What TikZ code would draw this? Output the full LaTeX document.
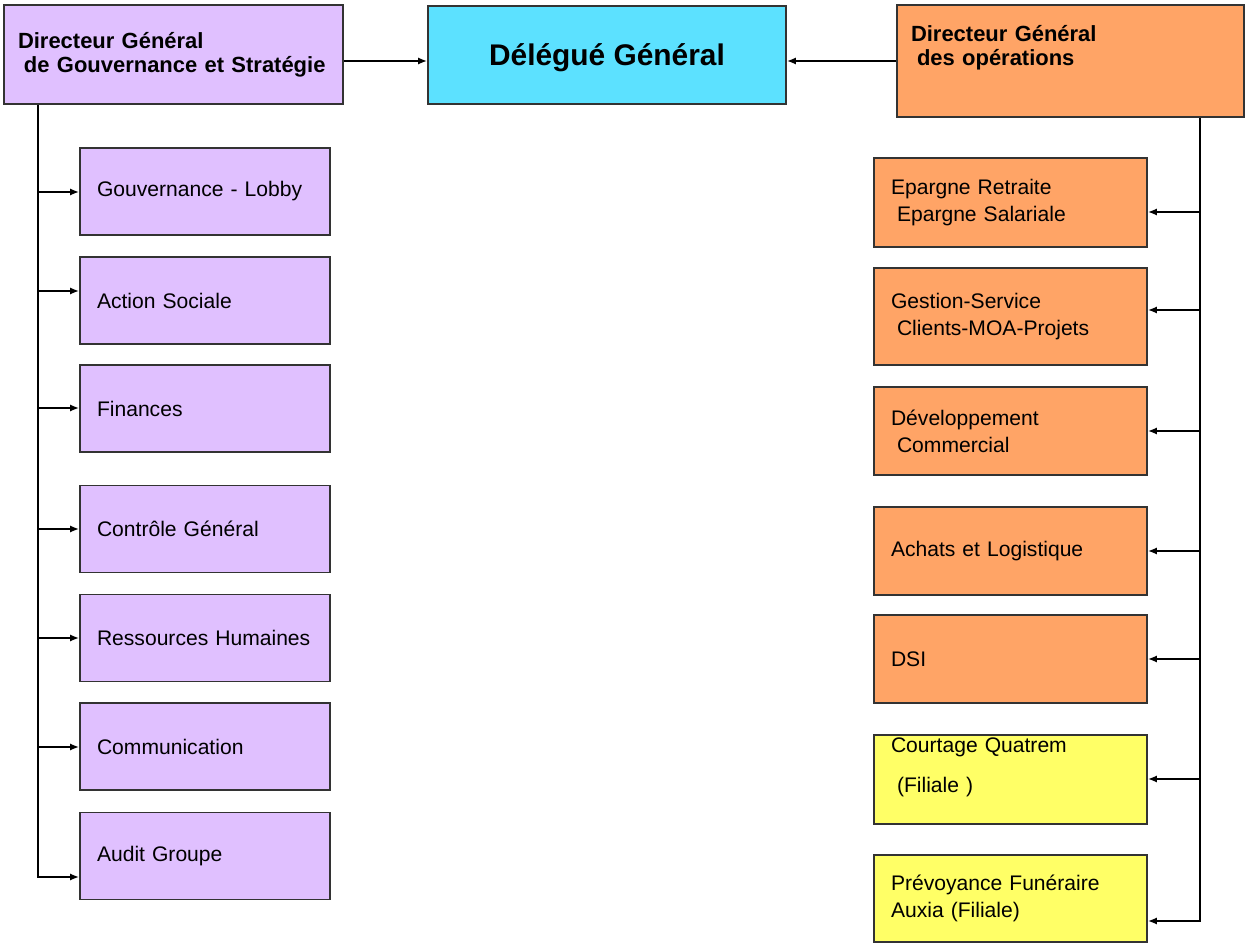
\documentclass[tikz,border=0pt]{standalone}
\usepackage{fontspec}
\setmainfont{Liberation Sans}
\usetikzlibrary{arrows.meta,positioning}

\definecolor{govlilac}{HTML}{E0C0FF}
\definecolor{delcyan}{HTML}{5CE1FF}
\definecolor{opsorange}{HTML}{FFA466}
\definecolor{subyellow}{HTML}{FFFF66}
\newcommand{\leadsp}{\hspace*{0.12cm}}

\begin{document}
\begin{tikzpicture}[
    top/.style={draw=black!80, line width=0.9pt, align=left, inner xsep=0.28cm,
        font=\fontsize{12.5}{13.8}\selectfont\bfseries},
    box/.style={draw=black!80, line width=0.9pt, align=left, inner xsep=0.34cm, inner ysep=0pt,
        font=\fontsize{12}{15.5}\selectfont},
    lbox/.style={box, fill=govlilac, text width=4.32cm, minimum height=1.74cm},
    rbox/.style={box, fill=opsorange, text width=4.78cm, minimum height=1.76cm},
    arrow/.style={-{Latex[length=1.8mm,width=1.4mm]}, line width=1pt}
]
\useasboundingbox (0,0) rectangle (24.9,-18.86);

% Top row
\node[top, fill=govlilac, text width=6.22cm, minimum height=1.98cm] (dggs) at (3.47,-1.09)
    {Directeur Général\\\leadsp de Gouvernance et Stratégie};
\node[draw=black!80, line width=0.9pt, fill=delcyan, minimum width=7.16cm, minimum height=1.96cm,
    text depth=0pt, font=\fontsize{17}{20}\selectfont\bfseries] (dg) at (12.14,-1.10) {Délégué Général};
\node[top, fill=opsorange, text width=6.38cm, minimum height=2.24cm] (dgo) at (21.41,-1.22)
    {Directeur Général\\\leadsp des opérations\\\strut};

% Gouvernance et Stratégie
\node[lbox] (gouv) at (4.10,-3.83) {Gouvernance - Lobby};
\node[lbox] (as) at (4.10,-6.01) {Action Sociale};
\node[lbox] (fin) at (4.10,-8.17) {Finances};
\node[lbox] (cg) at (4.10,-10.58) {Contrôle Général};
\node[lbox] (rh) at (4.10,-12.76) {Ressources Humaines};
\node[lbox] (com) at (4.10,-14.93) {Communication};
\node[lbox] (audit) at (4.10,-17.12) {Audit Groupe};

% Opérations
\node[rbox, minimum height=1.78cm] (ep) at (20.21,-4.05) {Epargne Retraite\\\leadsp Epargne Salariale};
\node[rbox, minimum height=1.94cm] (gest) at (20.21,-6.33) {Gestion-Service\\\leadsp Clients-MOA-Projets};
\node[rbox] (dev) at (20.21,-8.62) {Développement\\\leadsp Commercial};
\node[rbox] (ach) at (20.21,-11.02) {Achats et Logistique};
\node[rbox] (dsi) at (20.21,-13.18) {DSI};
\node[rbox, fill=subyellow, minimum height=1.78cm] (court) at (20.21,-15.59)
    {Courtage Quatrem\\[0.25cm]\leadsp(Filiale )\\[-0.12cm]\strut};
\node[rbox, fill=subyellow, minimum height=1.74cm] (prev) at (20.21,-17.97)
    {Prévoyance Funéraire\\Auxia (Filiale)};

% Arrows
\draw[arrow] (dggs.east |- dgo) -- (dg.west |- dgo);
\draw[arrow] (dgo.west) -- (dg.east |- dgo);

\coordinate (ltrunk) at (0.76,0);
\draw[arrow] (dggs.south -| ltrunk) |- ([yshift=-0.42cm]audit.west);
\foreach \n/\s in {gouv/-0.01, as/0.19, fin/0.01, cg/0, rh/0, com/-0.01} {
    \coordinate (t) at ([yshift=\s cm]\n.west);
    \draw[arrow] (ltrunk |- t) -- (t);
}

\coordinate (rtrunk) at (24.0,0);
\draw[arrow] (dgo.south -| rtrunk) |- ([yshift=-0.45cm]prev.east);
\foreach \n/\s in {ep/-0.19, gest/0.13, dev/0, ach/0, dsi/0, court/0.01} {
    \coordinate (t) at ([yshift=\s cm]\n.east);
    \draw[arrow] (rtrunk |- t) -- (t);
}

\end{tikzpicture}
\end{document}
